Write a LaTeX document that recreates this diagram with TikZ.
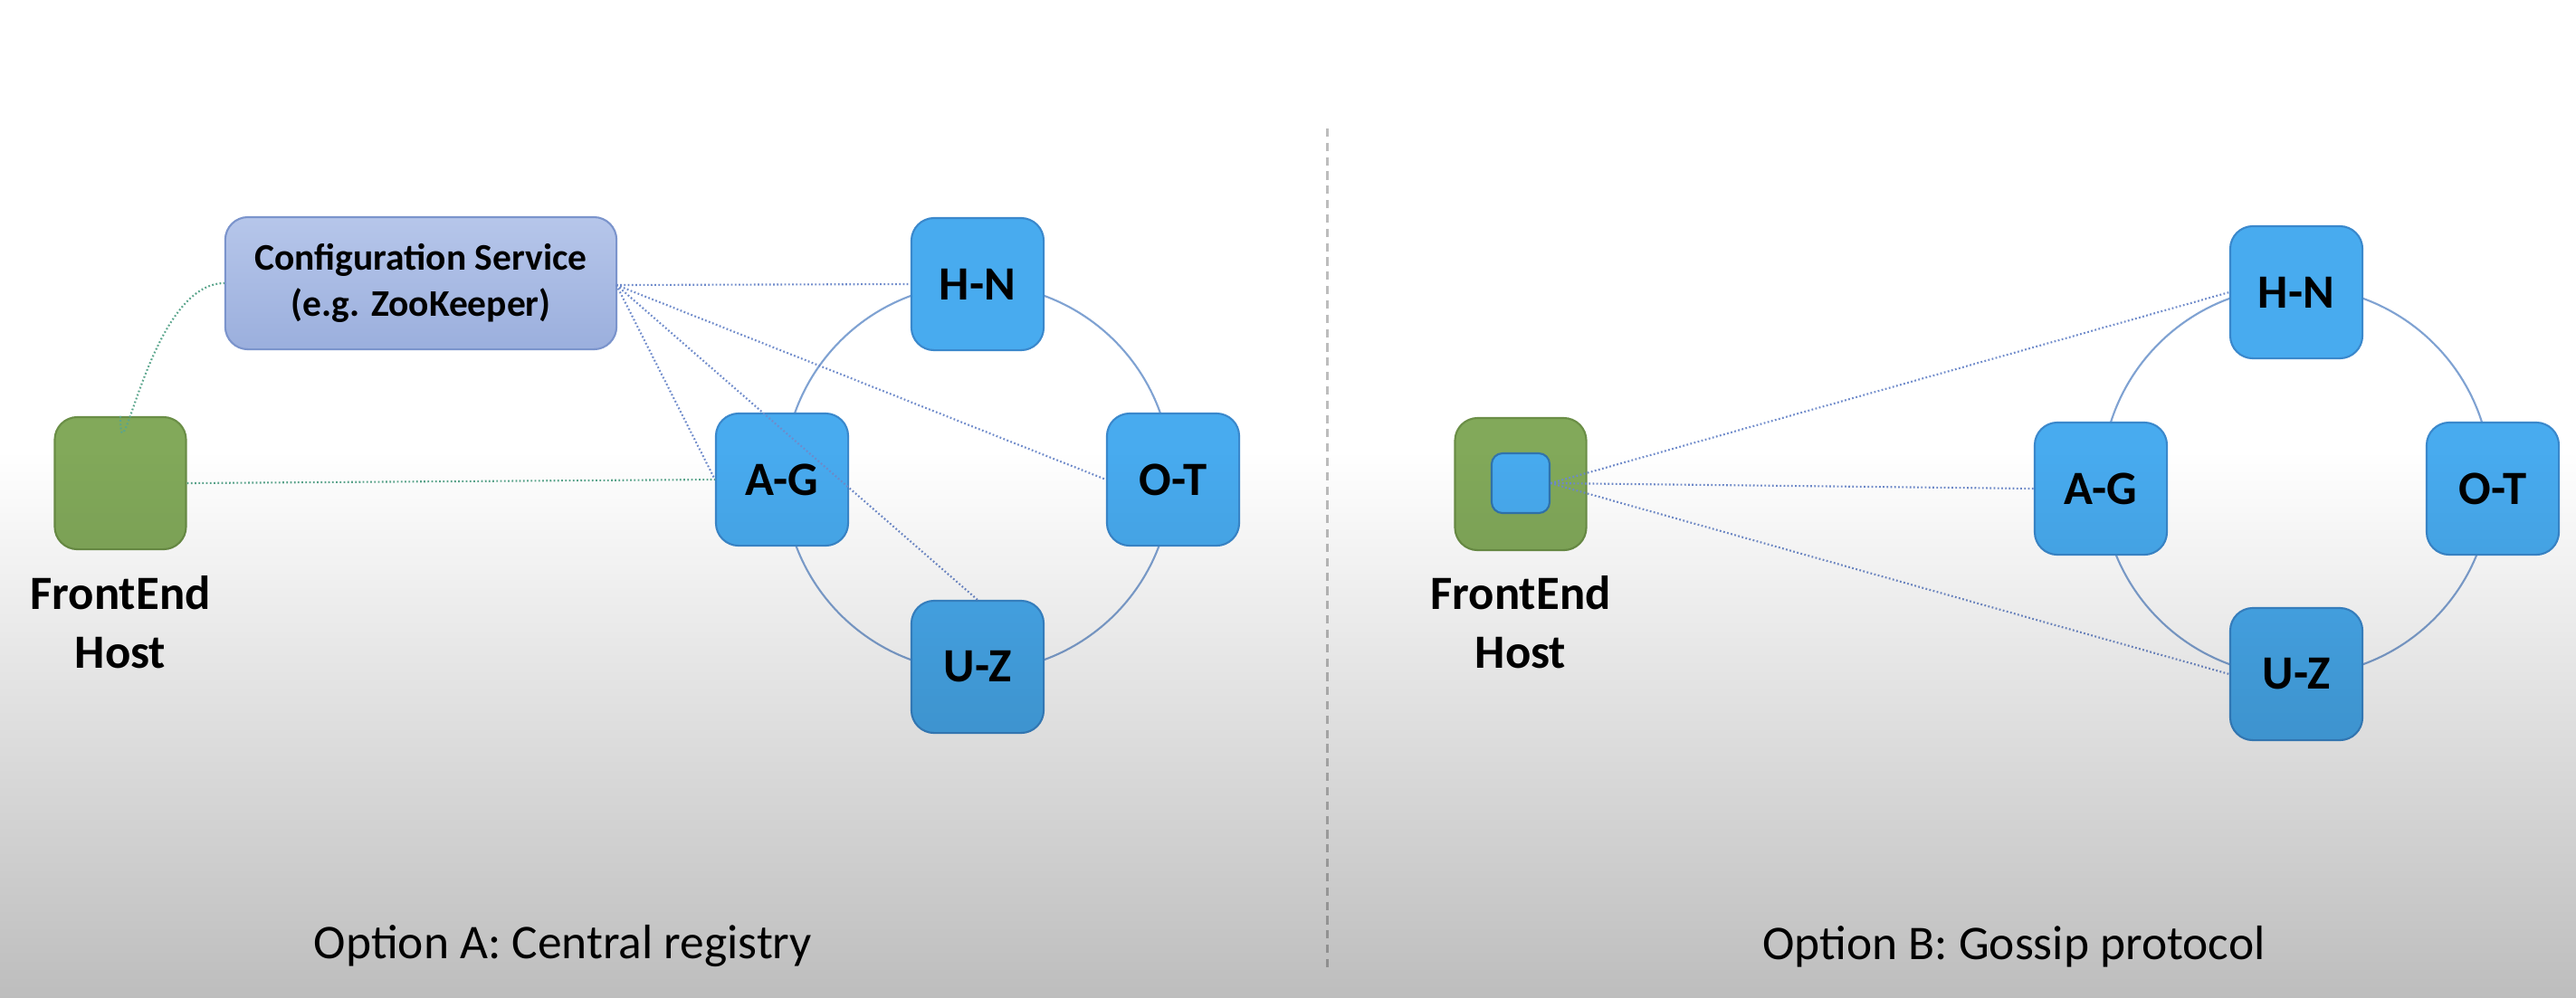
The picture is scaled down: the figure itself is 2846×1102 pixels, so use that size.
\documentclass[tikz,border=0pt]{standalone}
\usepackage{fontspec}
\setmainfont{Carlito}
\usetikzlibrary{fadings}
\tikzfading[name=darkdown, top color=transparent!100, bottom color=transparent!0]
\definecolor{nodeblue}{HTML}{48ABEF}
\definecolor{nodeborder}{HTML}{3A88CC}
\definecolor{hostgreen}{HTML}{82A95A}
\definecolor{hostborder}{HTML}{6A8E46}
\definecolor{cfgtop}{HTML}{B6C6EA}
\definecolor{cfgbot}{HTML}{9BAFDD}
\definecolor{cfgborder}{HTML}{7B94CC}
\definecolor{ringcol}{HTML}{7FA2D2}
\definecolor{linkblue}{HTML}{6F8BCB}
\definecolor{linkgreen}{HTML}{5AA58C}
\definecolor{divcol}{HTML}{BDBDBD}
\tikzset{
  shard/.style={draw=nodeborder, line width=0.6pt, fill=nodeblue, rounded corners=0.25cm,
    minimum width=1.46cm, minimum height=1.46cm, inner sep=0pt,
    font=\fontsize{15}{17}\selectfont\bfseries},
  hostbox/.style={draw=hostborder, line width=0.6pt, fill=hostgreen, rounded corners=0.25cm,
    minimum width=1.45cm, minimum height=1.46cm, inner sep=0pt},
  innerbox/.style={draw=nodeborder!85!black, line width=0.6pt, fill=nodeblue, rounded corners=0.12cm,
    minimum width=0.64cm, minimum height=0.66cm, inner sep=0pt},
  cfgbox/.style={draw=cfgborder, line width=0.6pt, top color=cfgtop, bottom color=cfgbot,
    rounded corners=0.25cm, minimum width=4.32cm, minimum height=1.46cm, inner sep=0pt,
    align=center, font=\fontsize{11.8}{14.5}\selectfont\bfseries},
  hostlabel/.style={align=center, font=\fontsize{15}{18.5}\selectfont\bfseries},
  caption/.style={font=\fontsize{15.2}{17}\selectfont},
  ring/.style={draw=ringcol, line width=0.6pt},
  bluelink/.style={draw=linkblue, line width=0.6pt, dash pattern=on 0.5pt off 0.7pt},
  greenlink/.style={draw=linkgreen, line width=0.6pt, dash pattern=on 0.5pt off 0.7pt},
  divider/.style={draw=divcol, line width=0.85pt, dash pattern=on 2.6pt off 1.9pt}
}
\begin{document}
\begin{tikzpicture}[x=0.01cm, y=-0.01cm]
\useasboundingbox (0,0) rectangle (2846,1102);
\fill[white] (0,0) rectangle (2846,1102);

% divider
\coordinate (dtop) at (1466,142);
\coordinate (dbot) at (1466,1075);
\draw[divider] (dtop) -- (dbot);

% ===== Option A =====
\draw[ring] (1080,528) circle[radius=2.14cm];
\node[cfgbox] (cfg) at (465,313) {Configuration Service\\(e.g. ZooKeeper)};
\node[shard] (hnA) at (1080,314) {H-N};
\node[shard] (agA) at (864,530) {A-G};
\node[shard] (otA) at (1296,530) {O-T};
\node[shard] (uzA) at (1080,737) {U-Z};
\node[hostbox] (feA) at (133,534) {};
\node[hostlabel] (feAlab) at (133,688) {FrontEnd\\Host};

\coordinate (cfgout) at (681,315);
\draw[bluelink] (cfgout) -- (hnA.west);
\draw[bluelink] (cfgout) -- (otA.west);
\draw[bluelink] (cfgout) -- (agA.west);
\draw[bluelink] (cfgout) -- (uzA.north);
\draw[greenlink] (feA.north) to[out=-90, in=180, looseness=1.15] (cfg.west);
\draw[greenlink] (feA.east) -- (agA.west);

\node[caption] (capA) at (622,1046) {Option A: Central registry};

% ===== Option B =====
\draw[ring] (2537,532) circle[radius=2.15cm];
\node[shard] (hnB) at (2537,323) {H-N};
\node[shard] (agB) at (2321,540) {A-G};
\node[shard] (otB) at (2754,540) {O-T};
\node[shard] (uzB) at (2537,745) {U-Z};
\node[hostbox] (feB) at (1680,535) {};
\node[innerbox] (inB) at (1680,534) {};
\node[hostlabel] (feBlab) at (1680,688) {FrontEnd\\Host};

\draw[bluelink] (inB.east) -- (hnB.west);
\draw[bluelink] (inB.east) -- (agB.west);
\draw[bluelink] (inB.east) -- (uzB.west);

\node[caption] (capB) at (2225,1046) {Option B: Gossip protocol};

% bottom darkening overlay
\fill[black, opacity=0.26, path fading=darkdown] (0cm,-5.0cm) rectangle (28.46cm,-11.02cm);
\end{tikzpicture}
\end{document}
